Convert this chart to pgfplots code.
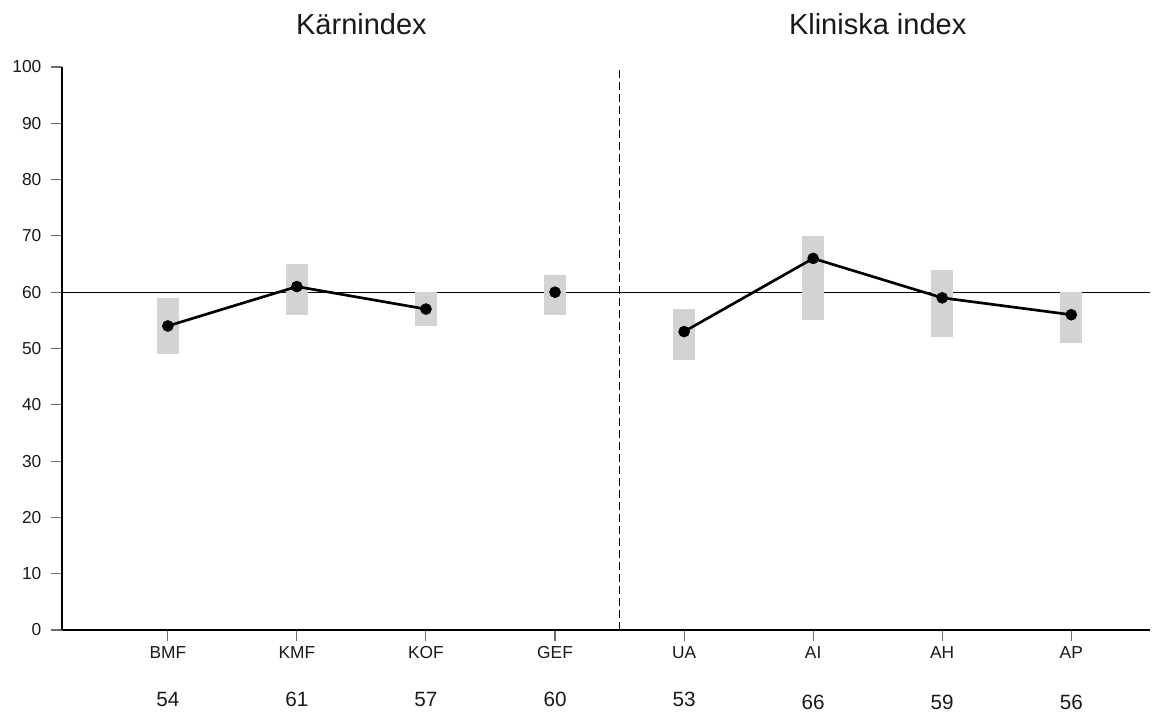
\documentclass[border=0pt]{standalone}
\usepackage{pgfplots}
\pgfplotsset{compat=1.18}
\usepackage{pgfplotstable}
\usepackage{fontspec}
\setmainfont{Liberation Sans}

\definecolor{bargray}{RGB}{211,211,211}
\definecolor{tickgray}{RGB}{110,110,110}

% x, score, interval low/high
\pgfplotstableread{
x  val lo hi
0  54  49 59
1  61  56 65
2  57  54 60
3  60  56 63
4  53  48 57
5  66  55 70
6  59  52 64
7  56  51 60
}\scores

\begin{document}
\begin{tikzpicture}
\begin{axis}[
    scale only axis,
    width=816pt, height=422.25pt,
    xmin=-0.82, xmax=7.61,
    ymin=0, ymax=100,
    axis x line*=bottom, axis y line*=left,
    axis line style={-, line width=2.2pt, black},
    xtick={0,...,7},
    xticklabels={BMF,KMF,KOF,GEF,UA,AI,AH,AP},
    ytick={0,10,...,100},
    tick align=outside,
    major tick length=8pt,
    tick style={tickgray, line width=0.8pt},
    ticklabel style={font=\fontsize{13}{15}\selectfont, text=black!90},
    /pgf/number format/assume math mode=true,
    xticklabel style={text height=9.5pt, text depth=0pt},
    yticklabel style={xshift=-4pt},
    clip=false,
    every axis plot/.append style={mark options={solid, line width=0.5pt}},
]
% reference line at 60
\addplot[black, line width=0.75pt, forget plot] coordinates {(-0.82,60) (7.61,60)};
% dashed separator
\addplot[black, line width=0.75pt, dash pattern=on 6pt off 3pt, forget plot] coordinates {(3.5,0) (3.5,100)};
% grey intervals
\addplot[draw=none, mark=none, forget plot,
    error bars/.cd, y dir=both, y explicit, error mark=none,
    error bar style={draw=bargray, line width=16.5pt}]
    table[x=x, y expr=(\thisrow{lo}+\thisrow{hi})/2,
          y error expr=(\thisrow{hi}-\thisrow{lo})/2] {\scores};
% scores
\addplot[black, line width=2pt, mark=*, mark size=4.1pt]
    coordinates {(0,54) (1,61) (2,57)};
\addplot[black, only marks, mark=*, mark size=4.1pt]
    coordinates {(3,60)};
\addplot[black, line width=2pt, mark=*, mark size=4.1pt]
    coordinates {(4,53) (5,66) (6,59) (7,56)};
% values below categories
\foreach \i/\v/\d in {0/54/57.75,1/61/57.75,2/57/57.75,3/60/57.75,4/53/57.75,5/66/59.5,6/59/59.5,7/56/59.5}{
  \edef\tmp{\noexpand\node[anchor=base, text=black!90, font=\noexpand\fontsize{15.5}{18}\noexpand\selectfont, yshift=-\d pt] at (axis cs:\i,0) {\v};}
  \tmp
}
\node[anchor=base, font=\fontsize{21.75}{26}\selectfont, text=black!90, yshift=24pt] at (axis cs:1.5,100) {Kärnindex};
\node[anchor=base, font=\fontsize{21.75}{26}\selectfont, text=black!90, yshift=24pt] at (axis cs:5.5,100) {Kliniska index};
\end{axis}
\useasboundingbox (-46.5pt,-58.5pt) rectangle (819pt,472.5pt);
\end{tikzpicture}
\end{document}
